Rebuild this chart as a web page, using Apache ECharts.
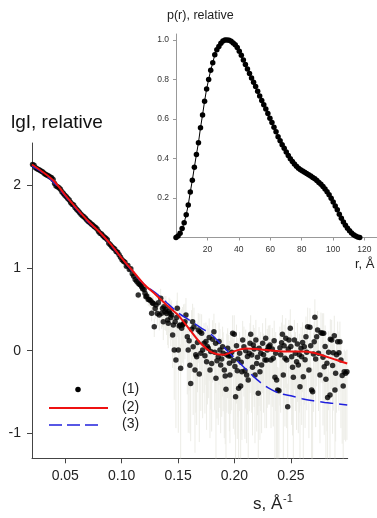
<!DOCTYPE html>
<html>
<head>
<meta charset="utf-8">
<script src="https://cdn.jsdelivr.net/npm/echarts@6/dist/echarts.min.js"></script>
<style>
html,body{margin:0;padding:0;background:#fff;}
#c{width:377px;height:518px;}
</style>
</head>
<body>
<div id="c"></div>
<script>
// ---- Scattering data (1): s, lgI, relative error ----
const sObs = [
0.0210,0.0223,0.0236,0.0249,0.0262,0.0275,0.0288,0.0301,0.0314,0.0327,
0.0340,0.0353,0.0366,0.0379,0.0392,0.0405,0.0418,0.0431,0.0444,0.0457,
0.0470,0.0483,0.0496,0.0509,0.0522,0.0535,0.0548,0.0561,0.0574,0.0587,
0.0600,0.0613,0.0626,0.0639,0.0652,0.0665,0.0678,0.0691,0.0704,0.0717,
0.0730,0.0743,0.0756,0.0769,0.0782,0.0795,0.0808,0.0821,0.0834,0.0847,
0.0860,0.0873,0.0886,0.0899,0.0912,0.0925,0.0938,0.0951,0.0964,0.0977,
0.0990,0.1003,0.1016,0.1029,0.1042,0.1055,0.1068,0.1081,0.1094,0.1107,
0.1120,
0.1133,0.1147,0.1147,0.1160,0.1168,0.1177,0.1186,0.1199,0.1207,0.1215,
0.1222,0.1236,0.1245,0.1257,0.1266,0.1272,0.1280,0.1289,0.1297,0.1304,
0.1316,0.1325,0.1333,0.1346,0.1355,0.1362,0.1369,0.1375,0.1384,0.1392,
0.1399,0.1408,0.1413,0.1420,0.1428,0.1436,0.1443,0.1452,0.1458,0.1466,
0.1474,0.1481,0.1488,0.1493,0.1502,0.1510,0.1517,0.1523,0.1532,0.1541,
0.1550,0.1561,0.1570,0.1582,0.1590,0.1598,0.1605,0.1612,0.1620,0.1629,
0.1634,0.1641,0.1650,0.1657,0.1665,0.1672,0.1679,0.1688,0.1694,0.1702,
0.1709,0.1718,0.1730,0.1738,0.1747,0.1753,0.1760,0.1768,0.1776,0.1783,
0.1790,0.1798,0.1807,0.1818,0.1825,0.1833,0.1836,0.1845,0.1856,0.1863,
0.1871,0.1878,0.1887,0.1895,0.1900,0.1910,0.1918,0.1925,0.1932,0.1940,
0.1949,0.1955,0.1960,0.1966,0.1975,0.1984,0.1990,0.1998,0.2004,0.2010,
0.2018,0.2025,0.2031,0.2037,0.2046,0.2055,0.2060,0.2066,0.2073,0.2084,
0.2093,0.2100,0.2108,0.2115,0.2122,0.2131,0.2138,0.2144,0.2153,0.2160,
0.2167,0.2175,0.2182,0.2190,0.2197,0.2204,0.2211,0.2218,0.2226,0.2233,
0.2241,0.2250,0.2258,0.2270,0.2277,0.2285,0.2291,0.2300,0.2309,0.2315,
0.2324,0.2335,0.2344,0.2352,0.2359,0.2366,0.2374,0.2383,0.2394,0.2403,
0.2410,0.2418,0.2425,0.2433,0.2440,0.2448,0.2455,0.2463,0.2472,0.2477,
0.2483,0.2495,0.2500,0.2507,0.2515,0.2522,0.2531,0.2540,0.2551,0.2558,
0.2566,0.2575,0.2581,0.2590,0.2596,0.2604,0.2610,0.2619,0.2626,0.2634,
0.2641,0.2649,0.2660,0.2669,0.2676,0.2684,0.2693,0.2700,0.2707,0.2713,
0.2720,0.2729,0.2737,0.2745,0.2758,0.2767,0.2779,0.2785,0.2791,0.2796,
0.2804,0.2811,0.2820,0.2826,0.2835,0.2847,0.2850,0.2862,0.2870,0.2876,
0.2885,0.2891,0.2897,0.2905,0.2915,0.2926,0.2935,0.2944,0.2955,0.2964,
0.2973,0.2986,0.2997
];
const lgIObs = [
2.25,2.24,2.21,2.20,2.19,2.18,2.17,2.16,2.14,2.13,
2.12,2.11,2.10,2.09,2.07,2.02,1.99,1.98,1.97,1.95,
1.92,1.90,1.88,1.86,1.84,1.82,1.79,1.77,1.76,1.73,
1.71,1.69,1.67,1.65,1.63,1.62,1.60,1.58,1.56,1.55,
1.53,1.52,1.50,1.49,1.47,1.44,1.42,1.41,1.39,1.37,
1.36,1.34,1.30,1.28,1.26,1.24,1.23,1.20,1.19,1.16,
1.13,1.10,1.08,1.07,1.02,1.03,0.98,0.99,0.93,0.90,
0.86,
0.84,0.815,0.673,0.80,0.794,0.774,0.75,0.74,0.694,0.653,
0.66,0.62,0.62,0.605,0.452,0.58,0.57,0.29,0.51,0.553,
0.45,0.58,0.432,0.634,0.452,0.51,0.35,0.532,0.472,0.50,
0.45,0.371,0.331,0.48,0.452,0.40,0.432,0.19,0.311,0.008,
0.35,-0.112,0.40,0.512,0.008,0.30,0.311,-0.213,0.27,0.311,
0.33,0.351,0.432,0.17,0.008,0.12,-0.175,-0.395,0.26,0.35,
0.048,0.29,-0.233,-0.05,-0.073,0.10,0.25,-0.28,0.23,-0.03,
0.21,0.008,0.09,-0.06,0.11,-0.133,0.05,0.029,0.16,-0.233,
-0.01,-0.153,0.138,0.23,-0.02,0.09,-0.334,-0.12,-0.073,0.11,
0.008,-0.173,-0.10,0.048,-0.032,-0.233,-0.306,-0.467,-0.05,0.029,
-0.064,-0.15,-0.294,-0.064,-0.02,0.21,-0.12,0.198,-0.19,-0.556,
0.06,-0.242,-0.10,-0.455,-0.03,-0.427,-0.14,-0.254,0.13,0.048,
-0.242,0.00,-0.294,-0.07,-0.354,-0.032,0.09,0.198,-0.052,-0.20,
0.069,0.02,-0.294,0.13,-0.153,-0.08,-0.515,0.03,-0.254,-0.03,
-0.173,0.09,-0.05,-0.112,0.15,-0.112,0.008,0.048,0.048,0.069,
-0.112,0.02,-0.092,0.12,-0.322,-0.03,-0.354,-0.475,-0.484,0.036,
-0.05,0.097,0.20,-0.294,0.06,-0.092,0.15,-0.112,-0.677,0.02,
0.13,0.27,0.05,-0.073,-0.20,-0.322,0.13,-0.03,-0.133,0.08,
-0.173,-0.05,-0.435,0.03,-0.073,0.10,-0.314,0.048,-0.11,0.17,
-0.02,0.29,-0.233,0.283,0.06,-0.475,-0.496,-0.04,0.109,0.404,
-0.10,0.17,0.25,-0.03,-0.294,0.218,0.21,-0.08,0.21,-0.193,
0.05,-0.346,-0.15,-0.564,-0.02,-0.536,0.138,0.13,-0.18,-0.024,
0.18,-0.475,-0.273,-0.05,0.109,-0.024,0.109,-0.112,-0.30,-0.427,
-0.254,-0.273,-0.254
];
const relErrObs = [
0.01,0.01,0.01,0.01,0.01,0.01,0.01,0.01,0.01,0.01,
0.01,0.01,0.01,0.01,0.01,0.01,0.01,0.01,0.01,0.01,
0.015,0.015,0.015,0.015,0.015,0.015,0.015,0.015,0.015,0.015,
0.015,0.015,0.015,0.015,0.015,0.015,0.015,0.015,0.015,0.015,
0.02,0.02,0.02,0.02,0.02,0.02,0.02,0.02,0.02,0.02,
0.02,0.02,0.02,0.02,0.02,0.03,0.03,0.03,0.03,0.03,
0.03,0.03,0.03,0.03,0.03,0.05,0.05,0.05,0.05,0.05,
0.05,
0.08,0.1,0.1,0.1,0.12,0.12,0.12,0.14,0.14,0.15,
0.15,0.16,0.18,0.18,0.2,0.2,0.22,0.25,0.25,0.25,
0.3,0.3,0.35,0.3,0.35,0.4,0.4,0.35,0.4,0.45,
0.45,0.5,0.5,0.45,0.5,0.55,0.5,0.6,0.55,0.75,
0.6,0.85,0.6,0.55,0.9,0.6,0.65,0.95,0.7,0.65,
0.7,0.65,0.6,0.8,0.9,0.75,0.85,0.8,0.7,0.65,
0.85,0.7,0.9,0.8,0.85,0.75,0.6,0.85,0.65,0.8,
0.7,0.85,0.75,0.8,0.7,0.85,0.8,0.75,0.7,0.85,
0.8,0.85,0.7,0.65,0.8,0.75,0.9,0.8,0.85,0.7,
0.8,0.85,0.8,0.75,0.8,0.85,0.85,0.9,0.8,0.75,
0.8,0.85,0.85,0.8,0.8,0.65,0.85,0.7,0.85,0.9,
0.8,0.85,0.8,0.9,0.8,0.9,0.85,0.85,0.7,0.75,
0.85,0.8,0.85,0.8,0.9,0.8,0.75,0.7,0.8,0.85,
0.75,0.8,0.85,0.75,0.85,0.8,0.9,0.8,0.85,0.8,
0.85,0.75,0.8,0.85,0.75,0.85,0.8,0.8,0.8,0.75,
0.85,0.8,0.85,0.75,0.9,0.8,0.9,0.9,0.9,0.8,
0.8,0.75,0.7,0.9,0.8,0.85,0.75,0.85,0.9,0.8,
0.75,0.7,0.8,0.85,0.85,0.9,0.75,0.8,0.85,0.8,
0.85,0.8,0.9,0.8,0.85,0.75,0.9,0.8,0.85,0.75,
0.8,0.7,0.85,0.7,0.8,0.9,0.9,0.8,0.75,0.65,
0.85,0.75,0.7,0.8,0.85,0.75,0.75,0.85,0.75,0.85,
0.8,0.9,0.85,0.9,0.8,0.9,0.75,0.75,0.85,0.8,
0.75,0.9,0.85,0.8,0.75,0.8,0.75,0.85,0.85,0.9,
0.85,0.85,0.85
];

// ---- Fits (2) red and (3) blue dashed ----
const sFit = [0.0205,0.03,0.04,0.05,0.06,0.07,0.08,0.09,0.10,0.11,0.12,0.13,0.14,0.15,0.16,0.17,0.18,0.19,0.20,0.21,0.22,0.23,0.24,0.25,0.26,0.27,0.28,0.29,0.30];
const fitRed = [2.25,2.16,2.05,1.88,1.72,1.57,1.44,1.29,1.12,0.96,0.80,0.68,0.55,0.43,0.26,0.09,-0.02,-0.05,-0.005,0.028,0.02,0.005,-0.005,-0.01,-0.01,-0.025,-0.065,-0.11,-0.155];
const fitBlue = [2.23,2.15,2.03,1.87,1.71,1.56,1.44,1.28,1.12,0.95,0.80,0.70,0.58,0.46,0.37,0.28,0.19,0.05,-0.09,-0.22,-0.35,-0.45,-0.515,-0.545,-0.58,-0.605,-0.625,-0.64,-0.657];

// ---- Inset p(r) ----
const rVals = [0,1.3,2.6,3.9,5.2,6.5,7.8,9.1,10.4,11.7,13.0,14.3,15.6,16.9,18.2,19.5,20.8,22.1,23.4,24.7,26.0,27.3,28.6,29.9,31.2,32.5,33.8,35.1,36.4,37.7,39.0,40.3,41.6,42.9,44.2,45.5,46.8,48.1,49.4,50.7,52.0,53.3,54.6,55.9,57.2,58.5,59.8,61.1,62.4,63.7,65.0,66.3,67.6,68.9,70.2,71.5,72.8,74.1,75.4,76.7,78.0,79.3,80.6,81.9,83.2,84.5,85.8,87.1,88.4,89.7,91.0,92.3,93.6,94.9,96.2,97.5,98.8,100.1,101.4,102.7,104.0,105.3,106.6,107.9,109.2,110.5,111.8,113.1,114.4,115.7,117.0];
const prVals = [0,0.008,0.022,0.045,0.075,0.115,0.165,0.23,0.29,0.356,0.42,0.48,0.555,0.62,0.69,0.752,0.80,0.847,0.884,0.925,0.95,0.967,0.983,0.995,0.999,1.0,0.998,0.993,0.985,0.975,0.962,0.943,0.922,0.899,0.876,0.853,0.83,0.807,0.786,0.764,0.74,0.716,0.694,0.672,0.65,0.627,0.604,0.582,0.558,0.535,0.51,0.49,0.47,0.452,0.433,0.415,0.399,0.385,0.372,0.361,0.351,0.343,0.336,0.33,0.324,0.318,0.311,0.304,0.297,0.288,0.279,0.269,0.258,0.246,0.232,0.216,0.199,0.18,0.16,0.14,0.118,0.098,0.079,0.062,0.047,0.034,0.023,0.014,0.008,0.003,0.0];

// ---- Tick labels ----
const sTicks = [0.05,0.10,0.15,0.20,0.25];
const lgTicks = [-1,0,1,2];
const rTicks = [20,40,60,80,100,120];
const pTicks = [0.2,0.4,0.6,0.8,1.0];
const legendLabels = ['(1)','(2)','(3)'];

const S_MIN = 0.0205, S_MAX = 0.3004, LG_MIN = -1.30, LG_MAX = 2.51;
const FONT = '"Liberation Sans", Arial, sans-serif';

const chart = echarts.init(document.getElementById('c'), null, {renderer:'canvas'});

const obsData = sObs.map((s,i)=>[s, lgIObs[i]]);
const errData = sObs.map((s,i)=>[s, lgIObs[i], relErrObs[i]]);

const option = {
  animation:false,
  backgroundColor:'#fff',
  grid:[
    {left:32, top:143, width:315.7, height:315.3},
    {left:176, top:34, width:201, height:203.5}
  ],
  xAxis:[
    {gridIndex:0, type:'value', min:S_MIN, max:S_MAX,
     axisLine:{show:true, onZero:false, lineStyle:{color:'#444', width:1}},
     axisTick:{show:true, length:5, customValues:sTicks, lineStyle:{color:'#444'}},
     axisLabel:{show:true, customValues:sTicks, margin:11, fontSize:14, color:'#222', fontFamily:FONT,
       formatter:v=>v.toFixed(2)},
     splitLine:{show:false}},
    {gridIndex:1, type:'value', min:0, max:128,
     axisLine:{show:true, onZero:false, lineStyle:{color:'#999', width:1}},
     axisTick:{show:true, length:3, customValues:rTicks, lineStyle:{color:'#999'}},
     axisLabel:{show:true, customValues:rTicks, margin:8, fontSize:8.5, color:'#333', fontFamily:FONT},
     splitLine:{show:false}}
  ],
  yAxis:[
    {gridIndex:0, type:'value', min:LG_MIN, max:LG_MAX,
     axisLine:{show:true, onZero:false, lineStyle:{color:'#444', width:1}},
     axisTick:{show:true, length:5, customValues:lgTicks, lineStyle:{color:'#444'}},
     axisLabel:{show:true, customValues:lgTicks, margin:11, fontSize:14, color:'#222', fontFamily:FONT},
     splitLine:{show:false}},
    {gridIndex:1, type:'value', min:0, max:1.03,
     axisLine:{show:true, onZero:false, lineStyle:{color:'#999', width:1}},
     axisTick:{show:true, length:3, customValues:pTicks, lineStyle:{color:'#999'}},
     axisLabel:{show:true, customValues:pTicks, margin:7, fontSize:8.5, color:'#333', fontFamily:FONT,
       formatter:v=>v.toFixed(1)},
     splitLine:{show:false}}
  ],
  series:[
    {type:'custom', xAxisIndex:0, yAxisIndex:0, z:1, silent:true,
     data:errData,
     encode:{x:0, y:1},
     renderItem:function(params, api){
       const s = api.value(0), y = api.value(1), e = api.value(2);
       let hi = y + Math.log10(1+e);
       let lo = y + Math.log10(Math.max(1-e, 0.001));
       hi = Math.min(hi, LG_MAX); lo = Math.max(lo, LG_MIN);
       const p1 = api.coord([s,hi]), p2 = api.coord([s,lo]);
       return {type:'line', shape:{x1:p1[0], y1:p1[1], x2:p2[0], y2:p2[1]},
               style:{stroke:'#ecece6', lineWidth:1}};
     }},
    {type:'scatter', xAxisIndex:0, yAxisIndex:0, z:2, data:obsData,
     symbol:'circle', symbolSize:5.5, itemStyle:{color:'#000'}},
    {type:'line', xAxisIndex:0, yAxisIndex:0, z:3, smooth:0.3, symbol:'none',
     data:sFit.map((s,i)=>[s,fitBlue[i]]),
     lineStyle:{color:'#2020dd', width:1.5, type:[13,6]}},
    {type:'line', xAxisIndex:0, yAxisIndex:0, z:4, smooth:0.3, symbol:'none',
     data:sFit.map((s,i)=>[s,fitRed[i]]),
     lineStyle:{color:'#ee1111', width:2}},
    {type:'line', xAxisIndex:1, yAxisIndex:1, z:5, symbol:'circle', symbolSize:5.5,
     showAllSymbol:true,
     data:rVals.map((r,i)=>[r,prVals[i]]),
     itemStyle:{color:'#000'}, lineStyle:{color:'#000', width:1}}
  ],
  graphic:[
    {type:'text', left:11, top:113, style:{text:'lgI, relative', fontSize:19, fontFamily:FONT, fill:'#111'}},
    {type:'text', left:167, top:9, style:{text:'p(r), relative', fontSize:12.5, fontFamily:FONT, fill:'#222'}},
    {type:'text', left:355, top:258, style:{text:'r, Å', fontSize:13, fontFamily:FONT, fill:'#222'}},
    {type:'text', left:253, top:496, style:{text:'s, Å', fontSize:17, fontFamily:FONT, fill:'#222'}},
    {type:'text', left:283, top:493, style:{text:'-1', fontSize:11, fontFamily:FONT, fill:'#222'}},
    {type:'circle', shape:{cx:78, cy:389.5, r:2.75}, style:{fill:'#000'}},
    {type:'line', shape:{x1:49, y1:408, x2:108, y2:408}, style:{stroke:'#ee1111', lineWidth:2}},
    {type:'line', shape:{x1:49, y1:425, x2:102, y2:425}, style:{stroke:'#2020dd', lineWidth:1.5, lineDash:[13,5]}},
    {type:'text', left:122, top:382, style:{text:legendLabels[0], fontSize:14, fontFamily:FONT, fill:'#222'}},
    {type:'text', left:122, top:400, style:{text:legendLabels[1], fontSize:14, fontFamily:FONT, fill:'#222'}},
    {type:'text', left:122, top:417, style:{text:legendLabels[2], fontSize:14, fontFamily:FONT, fill:'#222'}}
  ]
};
chart.setOption(option);
</script>
</body>
</html>
